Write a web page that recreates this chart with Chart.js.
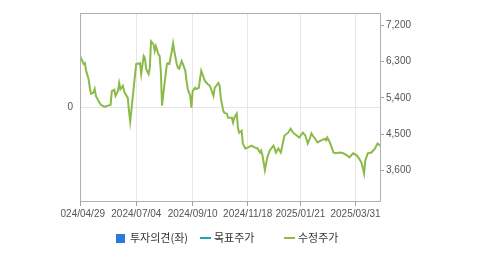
<!DOCTYPE html>
<html><head><meta charset="utf-8">
<script src="https://cdn.jsdelivr.net/npm/chart.js@4/dist/chart.umd.min.js"></script>
<style>
html,body{margin:0;padding:0;background:#fff;width:479px;height:255px;overflow:hidden;}
#clip{position:absolute;left:60px;top:0;width:419px;height:255px;overflow:hidden;}
#c{position:absolute;left:-60px;top:0;}
#legend{position:absolute;top:228px;left:0;width:479px;height:18px;font-family:"Noto Sans CJK KR","Noto Sans",sans-serif;font-size:11px;color:#333;}
.li{position:absolute;top:0;height:18px;line-height:18px;white-space:nowrap;}
.sq{display:inline-block;width:9px;height:9px;vertical-align:middle;margin-right:5px;position:relative;top:-1px;}
.ln{display:inline-block;width:11px;height:2px;vertical-align:middle;margin-right:3px;position:relative;top:-1px;}
</style></head>
<body>
<div id="clip"><canvas id="c" width="479" height="255"></canvas></div>
<div id="legend"></div>
<script>
// ---- data ----
const tickDays   = [0, 46, 92, 137, 180, 225];
const tickLabels = ['2024/04/29','2024/07/04','2024/09/10','2024/11/18','2025/01/21','2025/03/31'];
const priceTicks = [3600, 4500, 5400, 6300, 7200];
const opinionTicks = [0];
const legendNames = ['투자의견(좌)', '목표주가', '수정주가'];
const tradeDay = [
  0,2,3,4,5,7,8,9,11,12,13,15,17,20,23,25,26,28,29,31,
  32,33,35,36,37,39,40,41,43,45,46,49,50,52,53,54,56,57,58,60,
  61,62,64,65,66,67,69,71,72,73,75,76,77,79,80,81,83,84,86,87,
  88,90,91,92,94,95,97,99,100,102,104,106,107,109,110,113,114,115,117,118,
  120,121,124,125,126,128,129,130,132,133,135,137,140,143,145,147,148,149,150,151,
  153,155,158,159,160,162,164,167,170,172,174,177,179,182,184,186,188,189,190,192,
  194,197,200,201,202,204,207,209,212,215,218,220,223,226,228,230,231,232,233,235,
  238,241,242,243,245
];
const adjPrice = [
  6440,6310,6240,6260,6070,5870,5650,5500,5530,5620,5450,5330,5230,5180,5210,5230,5570,5600,5450,5570,
  5770,5620,5700,5570,5500,5400,5080,4810,5400,5990,6240,6260,5990,6440,6390,6120,5990,6140,6800,6730,
  6560,6680,6480,6440,6070,5210,5750,6240,6260,6240,6560,6750,6560,6240,6140,6120,6310,6240,6070,5820,
  5620,5450,5160,5570,5650,5620,5650,6070,5990,5820,5750,5700,5620,5450,5650,5770,5700,5400,5080,5030,
  5010,4910,4910,4790,4910,5010,4660,4540,4590,4270,4150,4170,4220,4170,4150,4050,4100,3980,3800,3610,
  3930,4100,4220,4150,4050,4150,4050,4470,4540,4640,4540,4470,4420,4540,4470,4270,4420,4520,4470,4390,
  4300,4350,4390,4350,4420,4300,4050,4030,4050,4030,3980,3930,4030,3980,3900,3780,3660,3530,3850,4030,
  4050,4150,4220,4270,4220
];
const targetPrice = [];
const opinion = [];
// ---- styles ----
const GREEN = '#8cba48', TEAL = '#1fa8b3', BLUE = '#2b7bdc';
const TICKFONT = {family: '"Liberation Sans", Arial, sans-serif', size: 10};

const legend = document.getElementById('legend');
const legendDefs = [
  {name: legendNames[0], kind: 'sq', color: BLUE, left: 116},
  {name: legendNames[1], kind: 'ln', color: TEAL, left: 200},
  {name: legendNames[2], kind: 'ln', color: GREEN, left: 284}
];
legendDefs.forEach(d => {
  const el = document.createElement('div');
  el.className = 'li'; el.style.left = d.left + 'px';
  const m = document.createElement('span'); m.className = d.kind; m.style.background = d.color;
  el.appendChild(m); el.appendChild(document.createTextNode(d.name));
  legend.appendChild(el);
});

const boxPlugin = {
  id: 'box',
  afterDraw(chart) {
    const a = chart.chartArea, ctx = chart.ctx;
    ctx.save(); ctx.strokeStyle = '#b0b0b0'; ctx.lineWidth = 1;
    ctx.strokeRect(Math.round(a.left) + 0.5, Math.round(a.top) + 0.5, Math.round(a.right - a.left), Math.round(a.bottom - a.top));
    ctx.restore();
  }
};

new Chart(document.getElementById('c'), {
  type: 'line',
  data: {
    datasets: [
      {label: legendNames[2], data: tradeDay.map((d, i) => ({x: d, y: adjPrice[i]})), borderColor: GREEN, borderWidth: 2,
       pointRadius: 0, tension: 0, yAxisID: 'yR', fill: false},
      {label: legendNames[1], data: targetPrice, borderColor: TEAL, borderWidth: 2, pointRadius: 0, yAxisID: 'yR'},
      {label: legendNames[0], data: opinion, borderColor: BLUE, backgroundColor: BLUE, pointRadius: 0, yAxisID: 'yL'}
    ]
  },
  options: {
    responsive: false, animation: false, devicePixelRatio: 1,
    layout: {padding: {top: 12, left: 0, right: 0, bottom: 0}},
    plugins: {legend: {display: false}, tooltip: {enabled: false}},
    scales: {
      x: {
        type: 'linear', min: 0, max: 245,
        afterBuildTicks: s => { s.ticks = tickDays.map(v => ({value: v})); },
        afterFit: s => { s.height = 54; },
        ticks: {autoSkip: false, maxRotation: 0, padding: 2, color: '#555', font: TICKFONT,
                callback: v => tickLabels[tickDays.indexOf(v)] || ''},
        grid: {color: '#e6e6e6', tickColor: '#a0a0a0', tickLength: 5},
        border: {color: '#b0b0b0'}
      },
      yL: {
        position: 'left', min: -1, max: 1,
        afterBuildTicks: s => { s.ticks = opinionTicks.map(v => ({value: v})); },
        afterFit: s => { s.width = 80; },
        ticks: {padding: 7, color: '#555', font: TICKFONT},
        grid: {color: '#e6e6e6', drawTicks: false},
        border: {color: '#b0b0b0'}
      },
      yR: {
        position: 'right', min: 2850, max: 7500,
        afterBuildTicks: s => { s.ticks = priceTicks.map(v => ({value: v})); },
        afterFit: s => { s.width = 99; },
        ticks: {padding: 2, color: '#555', font: TICKFONT,
                callback: v => v.toLocaleString('en-US')},
        grid: {drawOnChartArea: false, color: '#a0a0a0', tickLength: 4},
        border: {color: '#b0b0b0'}
      }
    }
  },
  plugins: [boxPlugin]
});
</script>
</body></html>
